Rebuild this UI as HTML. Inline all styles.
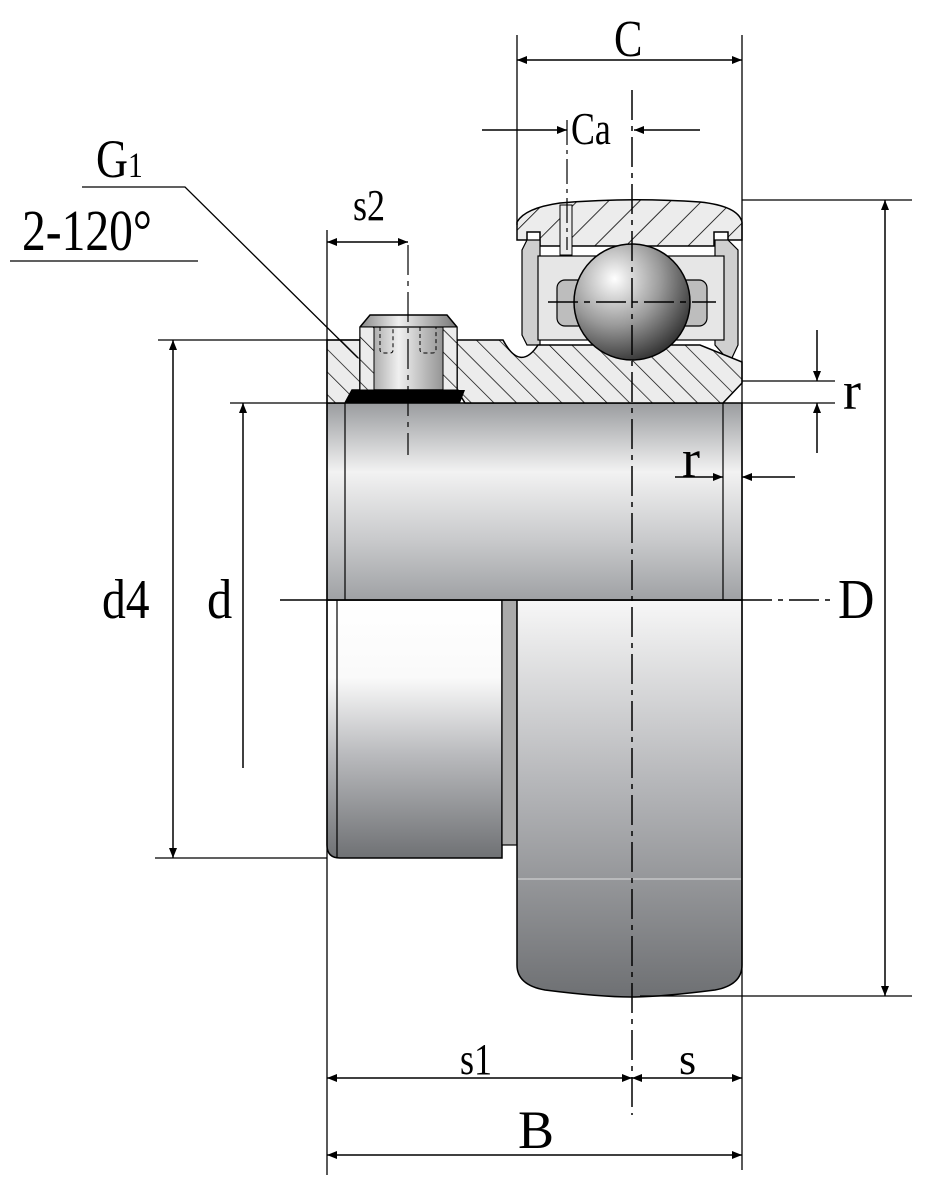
<!DOCTYPE html>
<html><head><meta charset="utf-8"><style>
html,body{margin:0;padding:0;background:#fff}
svg{display:block}
text{font-family:"Liberation Serif",serif;fill:#000}
</style></head><body>
<svg width="940" height="1189" viewBox="0 0 940 1189" xmlns="http://www.w3.org/2000/svg">
<defs>
<pattern id="h" patternUnits="userSpaceOnUse" width="22" height="22" patternTransform="rotate(45)">
<rect width="22" height="22" fill="#ececec"/><line x1="0" y1="0" x2="0" y2="22" stroke="#000" stroke-width="1.6"/>
</pattern>
<pattern id="h2" patternUnits="userSpaceOnUse" width="16" height="16" patternTransform="rotate(-45)">
<rect width="16" height="16" fill="#ececec"/><line x1="0" y1="0" x2="0" y2="16" stroke="#000" stroke-width="1.4"/>
</pattern>
<linearGradient id="bore" x1="0" y1="0" x2="0" y2="1">
<stop offset="0" stop-color="#9a9c9f"/><stop offset="0.35" stop-color="#f2f2f2"/><stop offset="0.7" stop-color="#c8c9cb"/><stop offset="1" stop-color="#9fa1a4"/></linearGradient>
<linearGradient id="col" x1="0" y1="0" x2="0" y2="1">
<stop offset="0" stop-color="#fff"/><stop offset="0.3" stop-color="#fafafa"/><stop offset="0.6" stop-color="#b9babd"/><stop offset="1" stop-color="#6f7174"/></linearGradient>
<linearGradient id="out" x1="0" y1="0" x2="0" y2="1">
<stop offset="0" stop-color="#f7f7f7"/><stop offset="0.45" stop-color="#b7b8bb"/><stop offset="1" stop-color="#6e7073"/></linearGradient>
<radialGradient id="ball" cx="0.35" cy="0.3" r="0.8">
<stop offset="0" stop-color="#fff"/><stop offset="0.5" stop-color="#9a9a9a"/><stop offset="1" stop-color="#222"/></radialGradient>
<linearGradient id="scr" x1="0" y1="0" x2="1" y2="0">
<stop offset="0" stop-color="#888"/><stop offset="0.4" stop-color="#f0f0f0"/><stop offset="1" stop-color="#777"/></linearGradient>
<marker id="a" viewBox="0 0 10 10" refX="10" refY="5" markerWidth="14" markerHeight="10" orient="auto-start-reverse" markerUnits="userSpaceOnUse"><path d="M0,1 L10,5 L0,9 Z" fill="#000"/></marker>
</defs>

<path d="M327,600 H502 V858 H340 Q327,858 327,845 Z" fill="url(#col)" stroke="#000" stroke-width="1.5"/>
<line x1="337" y1="600" x2="337" y2="858" stroke="#000" stroke-width="1.2"/>
<rect x="502" y="600" width="15" height="245" fill="#aaa" stroke="#000" stroke-width="1.2"/>
<path d="M517,600 H742 V965 Q742,985 715,990 Q660,997 632,997 Q600,997 545,990 Q517,985 517,965 Z" fill="url(#out)" stroke="#000" stroke-width="1.5"/>
<line x1="518" y1="879" x2="741" y2="879" stroke="#ddd" stroke-width="1"/>

<rect x="327" y="403" width="415" height="197" fill="url(#bore)" stroke="#000" stroke-width="1.5"/>
<line x1="345" y1="403" x2="345" y2="600" stroke="#000" stroke-width="1.2"/>
<line x1="723" y1="403" x2="723" y2="600" stroke="#000" stroke-width="1.2"/>

<path d="M517,222 Q525,208 560,203 Q630,197 700,202 Q738,206 742,222 V240 H728 V232 H714 V246 H540 V232 H527 V240 H517 Z" fill="url(#h)" stroke="#000" stroke-width="1.5"/>
<rect x="560" y="205" width="12" height="50" fill="#ececec" stroke="#000" stroke-width="1"/>
<path d="M527,240 L540,240 L540,345 L527,345 L522,335 L522,250 Z" fill="#cfcfcf" stroke="#000" stroke-width="1.2"/>
<path d="M728,240 L715,240 L715,345 L730,362 L738,345 L738,250 Z" fill="#cfcfcf" stroke="#000" stroke-width="1.2"/>
<rect x="538" y="256" width="186" height="84" fill="#e6e6e6" stroke="#000" stroke-width="1.2"/>
<rect x="557" y="280" width="150" height="46" rx="8" fill="#bdbdbd" stroke="#000" stroke-width="1.2"/>

<path d="M327,340 H360 V390 H352 L345,403 H327 Z" fill="url(#h2)" stroke="#000" stroke-width="1.5"/>
<path d="M457,340 H503 Q520,372 538,345 H700 L742,362 V383 L723,403 H465 L457,390 Z" fill="url(#h2)" stroke="#000" stroke-width="1.5"/>

<path d="M360,327 L370,315 H447 L457,327 V390 H360 Z" fill="url(#scr)" stroke="#000" stroke-width="1.5"/>
<line x1="360" y1="327" x2="457" y2="327" stroke="#000" stroke-width="1.2"/>
<rect x="360" y="327" width="14" height="63" fill="url(#h2)" stroke="#000" stroke-width="1"/>
<rect x="443" y="327" width="14" height="63" fill="url(#h2)" stroke="#000" stroke-width="1"/>
<path d="M380,327 V350 Q380,353 385,353 H390 Q393,353 393,350 V327 M420,327 V350 Q420,353 425,353 H432 Q436,353 436,350 V327" fill="none" stroke="#000" stroke-width="1" stroke-dasharray="4,3"/>
<path d="M352,390 H465 L460,403 H345 Z" fill="#000"/>

<circle cx="632" cy="302" r="58" fill="url(#ball)" stroke="#000" stroke-width="1.5"/>
<line x1="548" y1="302" x2="716" y2="302" stroke="#000" stroke-width="1.5" stroke-dasharray="30,6,6,6"/>

<line x1="632" y1="90" x2="632" y2="1115" stroke="#000" stroke-width="1.5" stroke-dasharray="30,6,5,6"/>
<line x1="567" y1="120" x2="567" y2="250" stroke="#000" stroke-width="1.2" stroke-dasharray="25,5,4,5"/>
<line x1="408" y1="245" x2="408" y2="455" stroke="#000" stroke-width="1.2" stroke-dasharray="30,6,5,6"/>
<line x1="280" y1="600" x2="742" y2="600" stroke="#000" stroke-width="1.5"/>
<line x1="742" y1="600" x2="832" y2="600" stroke="#000" stroke-width="1.5" stroke-dasharray="30,6,5,6"/>

<g stroke="#000" stroke-width="1.3" fill="none">
<line x1="327" y1="230" x2="327" y2="1175"/>
<line x1="742" y1="35" x2="742" y2="1170"/>
<line x1="517" y1="35" x2="517" y2="225"/>
<line x1="742" y1="200" x2="912" y2="200"/>
<line x1="640" y1="996" x2="912" y2="996"/>
<line x1="158" y1="340" x2="360" y2="340"/>
<line x1="155" y1="858" x2="327" y2="858"/>
<line x1="230" y1="403" x2="327" y2="403"/>
<line x1="742" y1="381" x2="835" y2="381"/>
<line x1="742" y1="403" x2="835" y2="403"/>
<line x1="10" y1="261" x2="198" y2="261"/>
<polyline points="82,187 185,187 358,358"/>
</g>
<g stroke="#000" stroke-width="1.5" fill="none">
<line x1="517" y1="60" x2="742" y2="60" marker-start="url(#a)" marker-end="url(#a)"/>
<line x1="482" y1="130" x2="567" y2="130" marker-end="url(#a)"/>
<line x1="700" y1="130" x2="634" y2="130" marker-end="url(#a)"/>
<line x1="885" y1="200" x2="885" y2="996" marker-start="url(#a)" marker-end="url(#a)"/>
<line x1="173" y1="340" x2="173" y2="858" marker-start="url(#a)" marker-end="url(#a)"/>
<line x1="243" y1="768" x2="243" y2="403" marker-end="url(#a)"/>
<line x1="327" y1="242" x2="408" y2="242" marker-start="url(#a)" marker-end="url(#a)"/>
<line x1="817" y1="330" x2="817" y2="381" marker-end="url(#a)"/>
<line x1="817" y1="453" x2="817" y2="403" marker-end="url(#a)"/>
<line x1="675" y1="477" x2="723" y2="477" marker-end="url(#a)"/>
<line x1="795" y1="477" x2="742" y2="477" marker-end="url(#a)"/>
<line x1="327" y1="1078" x2="632" y2="1078" marker-start="url(#a)" marker-end="url(#a)"/>
<line x1="632" y1="1078" x2="742" y2="1078" marker-start="url(#a)" marker-end="url(#a)"/>
<line x1="327" y1="1155" x2="742" y2="1155" marker-start="url(#a)" marker-end="url(#a)"/>
</g>

<g>
<text x="614" y="56" font-size="52" transform="translate(614 0) scale(0.82 1) translate(-614 0)">C</text>
<text x="571" y="144" font-size="46" transform="translate(571 0) scale(0.78 1) translate(-571 0)">Ca</text>
<text x="96" y="177" font-size="54" transform="translate(96 0) scale(0.82 1) translate(-96 0)">G<tspan font-size="36">1</tspan></text>
<text x="22" y="250" font-size="58" transform="translate(22 0) scale(0.82 1) translate(-22 0)">2-120°</text>
<text x="353" y="220" font-size="44" transform="translate(353 0) scale(0.82 1) translate(-353 0)">s2</text>
<text x="102" y="618" font-size="56" transform="translate(102 0) scale(0.85 1) translate(-102 0)">d4</text>
<text x="207" y="618" font-size="56" transform="translate(207 0) scale(0.9 1) translate(-207 0)">d</text>
<text x="838" y="618" font-size="56" transform="translate(838 0) scale(0.9 1) translate(-838 0)">D</text>
<text x="843" y="409" font-size="54">r</text>
<text x="682" y="477" font-size="54">r</text>
<text x="460" y="1074" font-size="44" transform="translate(460 0) scale(0.82 1) translate(-460 0)">s1</text>
<text x="679" y="1074" font-size="44">s</text>
<text x="518" y="1148" font-size="54">B</text>
</g>
</svg>
</body></html>
